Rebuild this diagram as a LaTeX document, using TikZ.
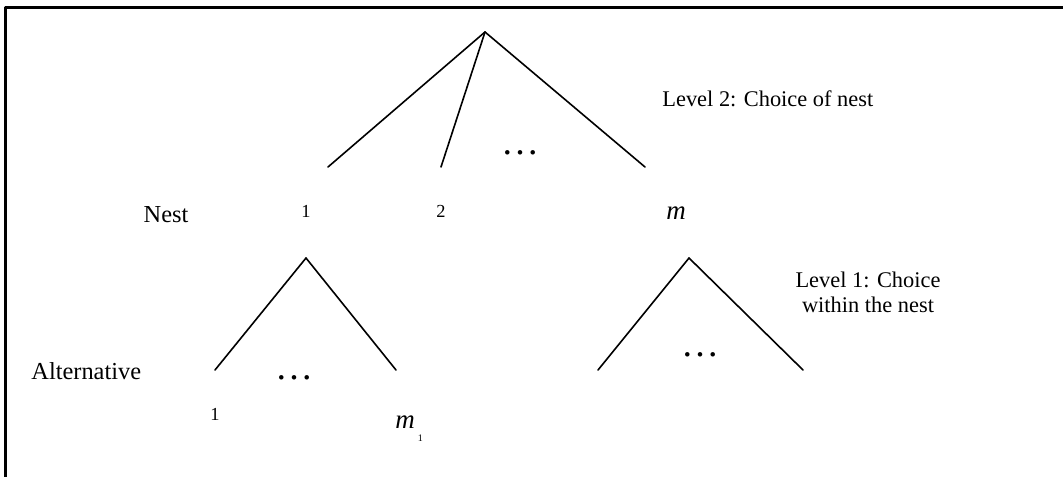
\documentclass[tikz,border=0pt]{standalone}
\usepackage{fontspec}
\setmainfont{Liberation Serif}

\begin{document}
\begin{tikzpicture}[x=0.5pt,y=-0.5pt,line cap=round,line join=round,
    branch/.style={line width=0.8pt},
    word/.style={inner sep=0pt,anchor=base,font=\fontsize{12.2}{14}\selectfont},
    levtext/.style={inner sep=0pt,anchor=base,font=\fontsize{11.2}{12.5}\selectfont},
    num/.style={inner sep=0pt,anchor=base,font=\fontsize{9.2}{11}\selectfont},
    ellip/.style={inner sep=0pt,anchor=base,font=\fontsize{19}{19}\selectfont}]
    \useasboundingbox (0,0) rectangle (1063,476);
    % frame, only its top and left edges are inside the page
    \draw[line width=1.2pt,line cap=butt] (1075,7.5) -- (5.5,7.5) -- (5.5,485);

    % level 2
    \coordinate (root) at (485,32);
    \coordinate (b1) at (328,167);
    \coordinate (b2) at (441,167);
    \coordinate (bm) at (645,167);
    \foreach \b in {b1,b2,bm} {
        \draw[branch] (root) -- (\b);
    }
    \node[ellip] (dtop) at (520,154) {…};
    \node[levtext,anchor=base west] (lev2) at (662,106) {Level 2: Choice of nest};

    \node[word] (nest) at (166,222) {Nest};
    \node[num] (nest1) at (306,217) {1};
    \node[num] (nest2) at (441,217) {2};
    \node[word,font=\fontsize{13.5}{14}\selectfont\itshape] (nestm) at (676,219) {m};

    % level 1, nest 1
    \coordinate (r1) at (306,258);
    \coordinate (a1) at (215,370);
    \coordinate (a2) at (396,370);
    \foreach \a in {a1,a2} {
        \draw[branch] (r1) -- (\a);
    }
    \node[ellip] (dleft) at (294,379) {…};

    % level 1, nest m
    \coordinate (rm) at (689,258);
    \coordinate (c1) at (598,370);
    \coordinate (c2) at (803,370);
    \foreach \c in {c1,c2} {
        \draw[branch] (rm) -- (\c);
    }
    \node[ellip] (dright) at (700,356) {…};

    \node[levtext] (lev1a) at (868,287) {Level 1: Choice};
    \node[levtext] (lev1b) at (868,312) {within the nest};

    \node[word,anchor=base west] (alt) at (31,379) {Alternative};
    \node[num] (alt1) at (215,420) {1};
    \node[word,anchor=base west,font=\fontsize{13.5}{14}\selectfont] (altm) at (395,428)
        {\textit{m}\hspace{1.5pt}\raisebox{-6.5pt}{\fontsize{5}{5}\selectfont 1}};
\end{tikzpicture}
\end{document}
